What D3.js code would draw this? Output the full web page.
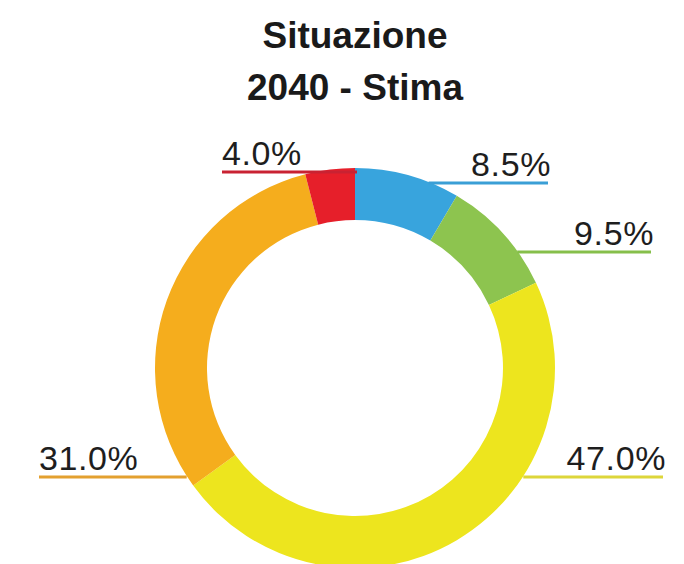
<!DOCTYPE html>
<html>
<head>
<meta charset="utf-8">
<script src="https://cdn.jsdelivr.net/npm/d3@7"></script>
<style>
  body { margin: 0; background: #fff; }
  svg { display: block; }
</style>
</head>
<body>
<div id="chart"></div>
<script>
// data
const categories = ["blue", "green", "yellow", "orange", "red"];
const values = [8.5, 9.5, 47.0, 31.0, 4.0];
const labels = ["8.5%", "9.5%", "47.0%", "31.0%", "4.0%"];
const colors = ["#38a4dd", "#8dc44f", "#ede51e", "#f5ad1d", "#e61f2a"];
const lineColors = ["#3a9fd6", "#86bf4b", "#ddd63a", "#e3a02f", "#c92232"];
const titleLines = ["Situazione", "2040 - Stima"];

const width = 684, height = 564;
const cx = 355, cy = 368;
const outerR = 200, innerR = 148;

// where each leader leaves the ring (deg, clockwise from top) and where it ends
const leaderAngle = [21.6, 54.2, 122.7, 237.3, -10];
const leaderEnd = [548, 651, 663, 39, 222];

const svg = d3.select("#chart").append("svg")
  .attr("width", width)
  .attr("height", height);

svg.append("text")
  .attr("x", cx)
  .attr("text-anchor", "middle")
  .style("font", "bold 37px 'Liberation Sans', Arial, sans-serif")
  .style("fill", "#1a1a1a")
  .selectAll("tspan")
  .data(titleLines)
  .join("tspan")
  .attr("x", cx)
  .attr("y", (d, i) => 48 + i * 52)
  .text(d => d);

const data = categories.map((c, i) => ({ key: c, value: values[i], i: i }));

const pie = d3.pie().value(d => d.value).sort(null);
const arc = d3.arc().innerRadius(innerR).outerRadius(outerR);

const g = svg.append("g").attr("transform", `translate(${cx},${cy})`);

g.selectAll("path")
  .data(pie(data))
  .join("path")
  .attr("d", arc)
  .attr("fill", d => colors[d.data.i]);

// leader lines + labels
data.forEach((d, i) => {
  let a = leaderAngle[i] * Math.PI / 180;
  let x0 = cx + outerR * Math.sin(a);
  let y0 = cy - outerR * Math.cos(a) + 1;
  let right = leaderEnd[i] > cx;
  let x1 = leaderEnd[i];
  if (i == 4) x0 = cx + 2; // red runs along the slice top

  svg.append("line")
    .attr("x1", x0).attr("y1", y0)
    .attr("x2", x1).attr("y2", y0)
    .attr("stroke", lineColors[i])
    .attr("stroke-width", 3);

  svg.append("text")
    .attr("x", right ? x1 + 3 : x1)
    .attr("y", y0 - 7)
    .attr("text-anchor", right ? "end" : "start")
    .style("font", "34px 'Liberation Sans', Arial, sans-serif")
    .style("letter-spacing", "0.6px")
    .style("fill", "#1e1e1e")
    .text(labels[i]);
});
</script>
</body>
</html>
